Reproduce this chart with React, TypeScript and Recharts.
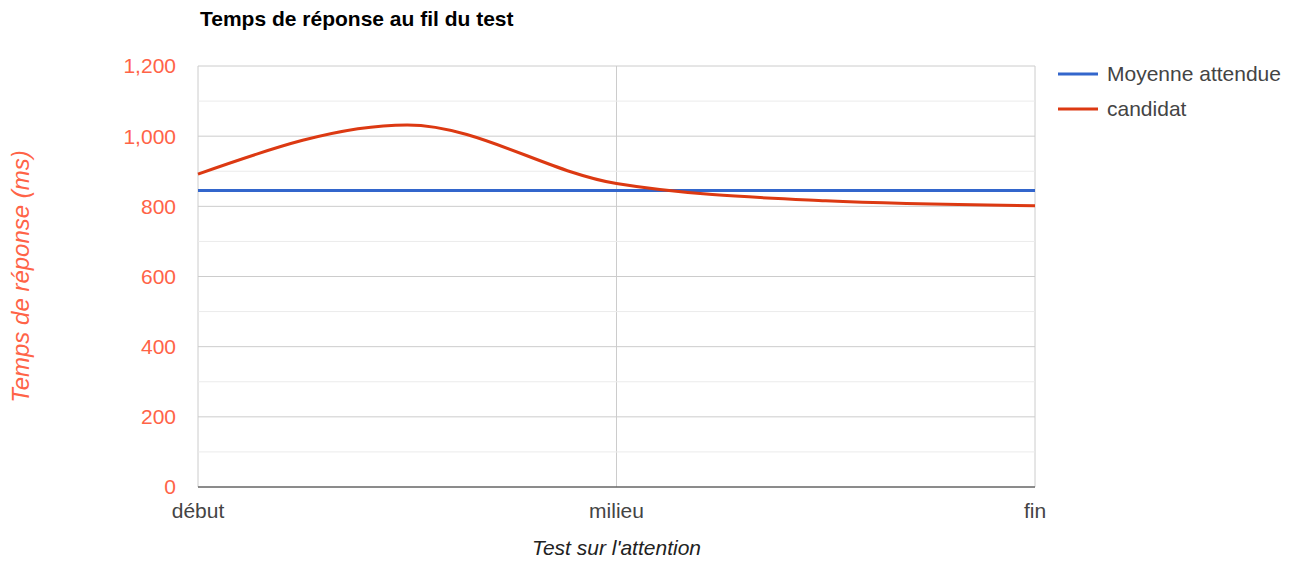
import { CartesianGrid, Legend, Line, LineChart, ReferenceLine, XAxis, YAxis } from "recharts";

const FONT = "'Liberation Sans', Arial, sans-serif";

// points along the test: only début / milieu / fin carry a label
const xLabels = ["début", "", "milieu", "", "fin"];
const moyenne = [845, 845, 845, 845, 845];
const candidat = [892, 1032, 865, 816, 802];

const yTicks = [0, 200, 400, 600, 800, 1000, 1200];
const yMinor = [100, 300, 500, 700, 900, 1100];

const data = xLabels.map((label, i) => ({
  pos: i,
  label,
  moyenne: moyenne[i],
  candidat: candidat[i]
}));

const xTicks = data.filter((d) => d.label !== "").map((d) => d.pos);

function LegendBox({ payload }: { payload?: Array<{ value: string; color: string }> }) {
  return (
    <div style={{ fontFamily: FONT, fontSize: 21, color: "#444" }}>
      {(payload || []).map((p) => (
        <div key={p.value} style={{ display: "flex", alignItems: "center", height: 35 }}>
          <svg width={40} height={4} style={{ marginRight: 9 }}>
            <line x1={0} y1={2} x2={40} y2={2} stroke={p.color} strokeWidth={3} />
          </svg>
          <span>{p.value}</span>
        </div>
      ))}
    </div>
  );
}

export default function App() {
  return (
    <div style={{ position: "relative", width: 1282, height: 557 }}>
      <div
        style={{
          position: "absolute",
          left: 192,
          top: 0,
          fontFamily: FONT,
          fontSize: 21,
          lineHeight: "21px",
          fontWeight: "bold",
          color: "#000"
        }}
      >
        Temps de réponse au fil du test
      </div>
      <LineChart
        width={1282}
        height={557}
        data={data}
        margin={{ top: 58, right: 255, bottom: 8, left: 0 }}
        style={{ fontFamily: FONT }}
      >
        <CartesianGrid stroke="#cccccc" />
        {yMinor.map((v) => (
          <ReferenceLine key={v} y={v} stroke="#ebebeb" />
        ))}
        <XAxis
          dataKey="pos"
          type="number"
          domain={[0, 4]}
          ticks={xTicks}
          tickFormatter={(v: number) => xLabels[v]}
          height={70}
          tickSize={0}
          tickMargin={16}
          tickLine={false}
          axisLine={{ stroke: "#333333" }}
          tick={{ fill: "#444444", fontSize: 21 }}
          label={{
            value: "Test sur l'attention",
            position: "center",
            dy: 26,
            fill: "#222222",
            fontSize: 21,
            fontStyle: "italic"
          }}
        />
        <YAxis
          domain={[0, 1200]}
          ticks={yTicks}
          width={190}
          tickSize={0}
          tickMargin={22}
          tickLine={false}
          axisLine={false}
          tickFormatter={(v: number) => v.toLocaleString("en-US")}
          tick={{ fill: "#ff6347", fontSize: 21 }}
          label={{
            value: "Temps de réponse (ms)",
            angle: -90,
            position: "center",
            dx: -83,
            fill: "#ff6347",
            fontSize: 24,
            fontStyle: "italic"
          }}
        />
        <Legend
          layout="vertical"
          align="center"
          verticalAlign="middle"
          wrapperStyle={{ left: 1050, top: 48.5, width: 230 }}
          content={(props: any) => <LegendBox payload={props.payload} />}
        />
        <Line
          dataKey="moyenne"
          name="Moyenne attendue"
          type="monotone"
          stroke="#3366cc"
          strokeWidth={3}
          dot={false}
          isAnimationActive={false}
        />
        <Line
          dataKey="candidat"
          name="candidat"
          type="monotone"
          stroke="#dc3912"
          strokeWidth={3}
          dot={false}
          isAnimationActive={false}
        />
      </LineChart>
    </div>
  );
}
